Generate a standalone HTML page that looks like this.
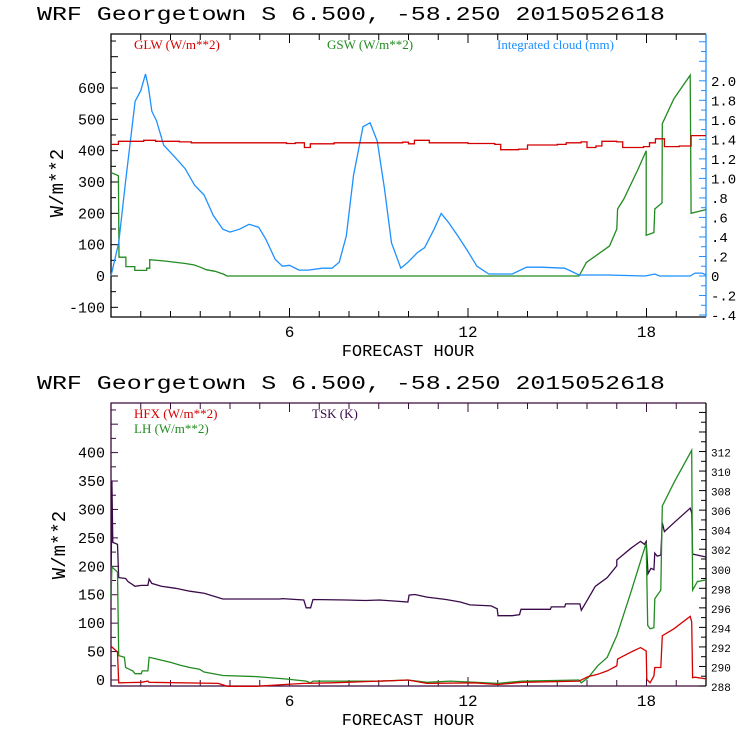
<!DOCTYPE html>
<html><head><meta charset="utf-8"><style>
html,body{margin:0;padding:0;background:#fff}
svg{display:block}
text{font-family:"Liberation Mono",monospace}
.lg{font-family:"Liberation Serif",serif;font-size:13px}
</style></head><body>
<svg id="c" width="740" height="740" viewBox="0 0 740 740" xmlns="http://www.w3.org/2000/svg"></svg>
<script>
// ---- Top panel data ----
const glwH=[0,0.25,1.1,1.5,2.3,2.7,5.9,6.2,6.5,6.7,7.5,9.8,10,10.2,10.7,12,12.9,13.1,13.7,14,15,15.3,15.8,16,16.3,16.5,17,17.2,17.5,17.9,18.1,18.3,18.6,19.1,19.5,20];
const glwV=[420,430,433,430,428,425,423,425,410,422,425,427,422,433,425,423,420,403,405,418,420,425,428,410,415,430,428,410,410,413,425,438,413,415,448,448];
const gswH=[0,0.25,0.27,0.5,0.5,0.8,0.8,1.2,1.2,1.3,1.3,1.8,2.5,2.8,3,3.2,3.5,3.8,3.9,15.73,15.98,16.76,17.0,17.03,17.24,17.72,17.99,17.99,18.25,18.28,18.52,18.53,18.92,19.47,19.5,20];
const gswV=[330,320,60,60,30,30,18,18,25,25,52,48,40,35,28,20,15,5,0,0,43,96,150,214,246,342,400,130,139,214,233,486,566,641,200,212];
const cldH=[0,0.26,0.49,0.81,1.0,1.16,1.26,1.37,1.53,1.77,2.17,2.49,2.81,3.13,3.44,3.76,4.0,4.32,4.64,4.96,5.2,5.52,5.76,6.0,6.32,6.63,7.11,7.43,7.67,7.91,8.15,8.47,8.71,8.95,9.19,9.43,9.74,9.98,10.3,10.54,10.86,11.1,11.34,11.66,11.98,12.3,12.7,13.49,13.97,14.45,15.25,15.73,16.68,17.96,18.28,18.44,19.47,19.63,19.87,20];
const cldV=[0,0.34,0.97,1.79,1.9,2.07,1.93,1.69,1.59,1.34,1.21,1.1,0.93,0.83,0.62,0.48,0.45,0.48,0.53,0.5,0.38,0.17,0.1,0.11,0.06,0.06,0.08,0.08,0.14,0.41,1.03,1.53,1.57,1.38,0.9,0.34,0.08,0.14,0.24,0.29,0.48,0.64,0.55,0.41,0.26,0.1,0.02,0.02,0.09,0.09,0.08,0.01,0.01,0,0.02,0,0,0.03,0.03,0.01];
// ---- Bottom panel data ----
const tskH=[0,0.03,0.06,0.22,0.26,0.49,0.57,0.81,1.02,1.24,1.28,1.37,1.69,2.17,2.65,3.13,3.76,5.68,5.76,6.48,6.56,6.71,6.79,7.91,8.55,9.03,9.51,9.98,10.02,10.22,10.62,11.26,11.74,12.06,12.78,12.98,13.01,13.49,13.73,13.78,14.77,14.8,15.25,15.28,15.76,15.81,16.04,16.28,16.68,17.0,17.0,17.48,17.8,17.93,17.99,18.05,18.15,18.25,18.28,18.36,18.48,18.53,18.6,18.92,19.47,19.52,19.55,19.71,20];
const tskV=[296.95,309,302.7,302.5,299.1,299.0,298.7,298.2,298.3,298.3,298.95,298.5,298.2,298.0,297.7,297.5,296.9,296.9,296.95,296.8,296.0,296.0,296.85,296.8,296.75,296.8,296.7,296.6,297.3,297.37,297.1,296.85,296.6,296.3,296.2,295.9,295.2,295.2,295.3,295.85,295.85,296.1,296.1,296.4,296.4,295.75,296.95,298.2,299.1,300.3,300.9,302.1,302.8,302.5,302.8,299.5,300.05,299.9,301.6,301.3,301.4,304.7,303.8,304.7,306.2,305.7,301.5,301.4,301.2];
const lhH=[0,0.03,0.22,0.26,0.45,0.49,0.73,0.81,1.02,1.05,1.24,1.28,1.53,2.01,2.33,2.65,2.97,3.13,3.76,4.88,5.84,6.56,6.71,6.79,9.03,9.98,10.62,11.42,13.01,13.81,15.73,15.81,16.04,16.36,16.68,17.0,17.48,17.99,18.04,18.12,18.25,18.28,18.48,18.53,18.92,19.52,19.55,19.71,20];
const lhV=[143,199,190,43,40,22,16,11,11,16,16,40,37,31,26,22,19,14,8,6,2,-2,-5,-2,-2,0,-4,-2,-6,-2,0,-5,4,25,40,78,155,241,96,90,92,143,158,306,347,404,158,173,176];
const hfxH=[0,0.03,0.22,0.26,1.02,1.24,1.28,3.6,3.92,4.88,5.84,6.48,7.43,9.51,9.98,10.62,12.22,13.01,13.81,15.73,16.04,16.36,16.68,17.0,17.03,17.48,17.8,17.99,18.01,18.12,18.25,18.28,18.48,18.53,18.92,19.47,19.52,19.55,19.63,20];
const hfxV=[60,58,49,-5,-4,-2,-4,-6,-11,-11,-8,-6,-5,-1,0,-6,-5,-8,-4,-2,6,10,16,25,37,49,57,51,1,-5,7,22,22,78,90,112,102,4,5,2];
const xTicks=[6,12,18];
const topL=[-100,0,100,200,300,400,500,600];
const topR=[-0.4,-0.2,0,0.2,0.4,0.6,0.8,1.0,1.2,1.4,1.6,1.8,2.0];
const botL=[0,50,100,150,200,250,300,350,400];
const botR=[288,290,292,294,296,298,300,302,304,306,308,310,312];

const NS="http://www.w3.org/2000/svg";
const svg=document.getElementById('c');
function mk(tag,at,parent){const e=document.createElementNS(NS,tag);for(const k in at)e.setAttribute(k,at[k]);(parent||svg).appendChild(e);return e;}
const X0=111,X1=706;
const xs=h=>X0+(X1-X0)*h/20;
// top scales
const T={top:34,bot:317};
const yTL=v=>276-v*0.3133;
const yTR=v=>276-v*97.6;
// bottom scales
const B={top:403,bot:686};
const yBL=v=>680-v*0.5685;
const yBR=v=>686-(v-288)*9.77;

function line(H,V,ys,col,name){
  let d='';for(let i=0;i<H.length;i++){d+=(i?'L':'M')+xs(H[i]).toFixed(1)+' '+ys(V[i]).toFixed(1);}
  const p=mk('path',{d:d,fill:'none',stroke:col,'stroke-width':1.3});
  
  
}
function stepLine(H,V,ys,col,name){
  let d='';for(let i=0;i<H.length;i++){const x=xs(H[i]).toFixed(1),y=ys(V[i]).toFixed(1);
    if(i===0)d+='M'+x+' '+y;else d+='H'+x+'V'+y;}
  const p=mk('path',{d:d,fill:'none',stroke:col,'stroke-width':1.3});
  
  
}
function txt(s,x,y,at){const t=mk('text',Object.assign({x:x,y:y},at||{}));t.textContent=s;return t;}

function panel(P,yL,yR,lTicks,lStep,rTicks,rStep,rFmt,frameCol,rCol,rSize,prefix){
  const g=mk('g',{});
  
  
  // title
  const tt=txt('WRF  Georgetown S  6.500, -58.250  2015052618',37,P.top-14,{'font-size':19,textLength:628,lengthAdjust:'spacingAndGlyphs','xml:space':'preserve'});
  
  
  // frame
  mk('path',{d:`M${X1} ${P.top}H${X0}V${P.bot}H${X1}`,fill:'none',stroke:frameCol,'stroke-width':1.3},g);
  mk('line',{x1:X1,y1:P.top,x2:X1,y2:P.bot,stroke:rCol,'stroke-width':1.3},g);
  // x ticks
  for(let h=1;h<20;h++){const x=xs(h),L=(h%6===0)?9:6;
    mk('line',{x1:x,y1:P.bot,x2:x,y2:P.bot-L,stroke:frameCol},g);
    mk('line',{x1:x,y1:P.top,x2:x,y2:P.top+L,stroke:frameCol},g);}
  xTicks.forEach(h=>{const t=txt(String(h),xs(h),P.bot+20,{'font-size':16,'text-anchor':'middle'});
    
    });
  const xt=txt('FORECAST HOUR',408,P.bot+39,{'font-size':17,'text-anchor':'middle'});
  
  
  // left ticks
  const lmin=lTicks[0];
  for(let v=lmin-lStep;;v+=lStep/2){const y=yL(v);if(y<P.top)break;if(y>P.bot)continue;
    const major=(Math.round((v-lmin)/lStep*2)%2===0);
    mk('line',{x1:X0,y1:y,x2:X0+(major?7:5),y2:y,stroke:frameCol},g);}
  lTicks.forEach(v=>{const t=txt(String(v),105,yL(v)+5,{'font-size':15,'text-anchor':'end'});
    
    });
  // right ticks
  const rmin=rTicks[0];
  for(let v=rmin;;v+=rStep/2){const y=yR(v);if(y<P.top)break;if(y>P.bot+0.5)continue;
    const major=(Math.round((v-rmin)/rStep*2)%2===0);
    mk('line',{x1:X1,y1:y,x2:X1-(major?7:5),y2:y,stroke:rCol},g);}
  rTicks.forEach(v=>{const t=txt(rFmt(v),711,yR(v)+5,{'font-size':rSize});
    
    });
}
const fmtR=v=>{let s=v.toFixed(1);if(Math.abs(v)<1&&v!==0)s=s.replace('0.','.');if(v===0)s='0';return s;};
panel(T,yTL,yTR,topL,100,topR,0.2,fmtR,'#000','#1e90ff',14,'top');
panel(B,yBL,yBR,botL,50,botR,2,v=>String(v),'#3a0a3a','#000',11,'bottom');

// y titles
let yt=txt('W/m**2',0,0,{'font-size':19,transform:'translate(63,183) rotate(-90)','text-anchor':'middle'});

yt=txt('W/m**2',0,0,{'font-size':19,transform:'translate(65,545) rotate(-90)','text-anchor':'middle'});


// legends
function leg(s,x,y,col,name){const t=txt(s,x,y,{class:'lg',fill:col});}
leg('GLW (W/m**2)',134,49,'#d40000','legend-glw');
leg('GSW (W/m**2)',327,49,'#228b22','legend-gsw');
leg('Integrated cloud (mm)',497,49,'#1e90ff','legend-cloud');
leg('HFX (W/m**2)',134,418,'#d40000','legend-hfx');
leg('LH  (W/m**2)',134,433,'#228b22','legend-lh');
leg('TSK (K)',312,418,'#3a0a4a','legend-tsk');

// series
line(gswH,gswV,yTL,'#228b22','gsw-line');
line(cldH,cldV,yTR,'#1e90ff','cloud-line');
stepLine(glwH,glwV,yTL,'#d40000','glw-line');
line(tskH,tskV,yBR,'#3a0a4a','tsk-line');
line(lhH,lhV,yBL,'#228b22','lh-line');
line(hfxH,hfxV,yBL,'#d40000','hfx-line');
</script>
</body></html>
